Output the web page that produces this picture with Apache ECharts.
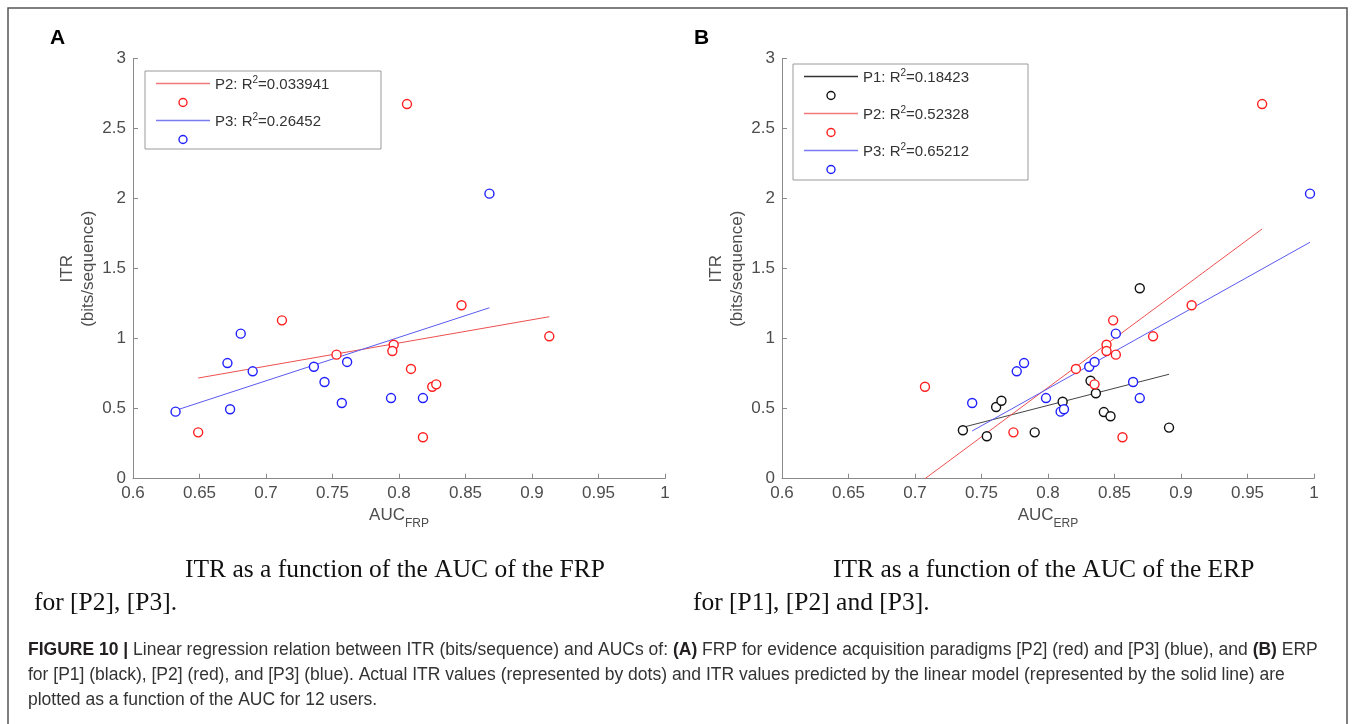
<!DOCTYPE html>
<html>
<head>
<meta charset="utf-8">
<script src="https://cdn.jsdelivr.net/npm/echarts@6/dist/echarts.min.js"></script>
<style>
html,body{margin:0;padding:0;background:#fff;}
#chart{width:1355px;height:724px;}
</style>
</head>
<body>
<div id="chart"></div>
<script>
// panel A : AUC of the FRP
var frpP2X = [0.649, 0.712, 0.753, 0.796, 0.795, 0.847, 0.913, 0.809, 0.825, 0.828, 0.818, 0.806];
var frpP2Y = [0.331, 1.131, 0.886, 0.957, 0.912, 1.239, 1.017, 0.784, 0.657, 0.674, 0.296, 2.676];
var frpP3X = [0.632, 0.671, 0.681, 0.673, 0.690, 0.736, 0.744, 0.761, 0.757, 0.794, 0.818, 0.868];
var frpP3Y = [0.479, 0.826, 1.036, 0.496, 0.767, 0.800, 0.691, 0.834, 0.541, 0.576, 0.576, 2.036];
// fitted lines, end points
var frpFitP2 = [[0.649, 0.719], [0.913, 1.157]];
var frpFitP3 = [[0.633, 0.491], [0.868, 1.221]];

// panel B : AUC of the ERP
var erpP1X = [0.736, 0.754, 0.761, 0.765, 0.869, 0.832, 0.836, 0.811, 0.842, 0.847, 0.891, 0.790];
var erpP1Y = [0.346, 0.303, 0.512, 0.557, 1.360, 0.700, 0.610, 0.550, 0.476, 0.446, 0.365, 0.331];
var erpP2X = [0.7075, 0.774, 0.849, 0.908, 0.879, 0.844, 0.844, 0.851, 0.821, 0.835, 0.856, 0.961];
var erpP2Y = [0.657, 0.331, 1.131, 1.239, 1.017, 0.957, 0.912, 0.886, 0.784, 0.674, 0.296, 2.676];
var erpP3X = [0.851, 0.782, 0.831, 0.835, 0.864, 0.869, 0.7985, 0.8095, 0.812, 0.997, 0.743, 0.7765];
var erpP3Y = [1.036, 0.826, 0.800, 0.834, 0.691, 0.576, 0.576, 0.479, 0.496, 2.036, 0.541, 0.767];
var erpFitP1 = [[0.7376, 0.371], [0.891, 0.746]];
var erpFitP2 = [[0.7075, 0.0], [0.961, 1.784]];
var erpFitP3 = [[0.743, 0.341], [0.997, 1.689]];

var legendA = ['P2', '0.033941', 'P3', '0.26452'];
var legendB = ['P1', '0.18423', 'P2', '0.52328', 'P3', '0.65212'];

var RED = '#ff1f1f', BLUE = '#2020ff', BLACK = '#111111';
var RED_L = '#ee5050', BLUE_L = '#5a5af0', BLACK_L = '#444444';
var FONT = '"Liberation Sans", Arial, sans-serif';
var SERIF = '"Liberation Serif", "Times New Roman", serif';

function zip(xs, ys) {
	var out = [];
	for (var i = 0; i < xs.length; i++) out.push([xs[i], ys[i]]);
	return out;
}

function xAxisFor(idx, sub) {
	return {
		type: 'value', gridIndex: idx, min: 0.6, max: 1, interval: 0.05,
		axisLine: {lineStyle: {color: '#8a8a8a', width: 1}},
		axisTick: {inside: true, length: 5, lineStyle: {color: '#8a8a8a'}},
		axisLabel: {color: '#4d4d4d', fontSize: 17, fontFamily: FONT, margin: 6,
			formatter: function (v) { return String(+v.toFixed(2)); }},
		splitLine: {show: false},
		name: '{a|AUC}{s|' + sub + '}',
		nameLocation: 'middle', nameGap: 20,
		nameTextStyle: {
			fontFamily: FONT,
			rich: {
				a: {fontSize: 17, color: '#4d4d4d', fontFamily: FONT, verticalAlign: 'bottom', padding: [0, 0, 6, 0]},
				s: {fontSize: 12, color: '#4d4d4d', fontFamily: FONT, verticalAlign: 'bottom'}
			}
		}
	};
}

function yAxisFor(idx) {
	return {
		type: 'value', gridIndex: idx, min: 0, max: 3, interval: 0.5,
		axisLine: {show: true, lineStyle: {color: '#8a8a8a', width: 1}},
		axisTick: {show: true, inside: true, length: 5, lineStyle: {color: '#8a8a8a'}},
		axisLabel: {color: '#4d4d4d', fontSize: 17, fontFamily: FONT, margin: 7},
		splitLine: {show: false},
		name: 'ITR\n(bits/sequence)',
		nameLocation: 'middle', nameGap: 31, nameRotate: 90,
		nameTextStyle: {color: '#4d4d4d', fontSize: 17, fontFamily: FONT, lineHeight: 21}
	};
}

function dots(name, idx, xs, ys, color) {
	return {
		name: name, type: 'scatter', xAxisIndex: idx, yAxisIndex: idx,
		data: zip(xs, ys), symbol: 'circle', symbolSize: 9, z: 3,
		itemStyle: {color: '#fff', opacity: 1, borderColor: color, borderWidth: 1.4}
	};
}

function fit(name, idx, pts, color) {
	return {
		name: name, type: 'line', xAxisIndex: idx, yAxisIndex: idx,
		data: pts, showSymbol: false, z: 2, silent: true,
		lineStyle: {color: color, width: 1}
	};
}

function legendBox(x, y, w, h, names, vals, colors, lineColors) {
	var g = [{type: 'rect', shape: {x: x, y: y, width: w, height: h},
		style: {fill: '#fff', stroke: '#9a9a9a', lineWidth: 1}, z: 10}];
	for (var i = 0; i < names.length; i++) {
		var ly = y + 12.5 + i * 37;
		g.push({type: 'line', shape: {x1: x + 11, y1: ly, x2: x + 65, y2: ly},
			style: {stroke: lineColors[i], lineWidth: 1.5}, z: 11});
		g.push({type: 'circle', shape: {cx: x + 38, cy: ly + 19, r: 4},
			style: {fill: '#fff', stroke: colors[i], lineWidth: 1.4}, z: 11});
		g.push({type: 'text', x: x + 70, y: ly, z: 11,
			style: {
				text: '{t|' + names[i] + ': R}{p|2}{t|=' + vals[i] + '}',
				verticalAlign: 'middle',
				rich: {
					t: {fontSize: 15, fontFamily: FONT, fill: '#333', verticalAlign: 'bottom'},
					p: {fontSize: 10, fontFamily: FONT, fill: '#333', verticalAlign: 'bottom', padding: [0, 0, 7, 0]}
				}
			}});
	}
	return g;
}

function init_chart() {
	var dom = document.getElementById('chart');
	var myChart = echarts.init(dom, null, {renderer: 'canvas'});
	var graphic = [];
	graphic.push({type: 'rect', shape: {x: 8, y: 8, width: 1339, height: 740},
		style: {fill: 'none', stroke: '#555', lineWidth: 1.5}, z: 0});
	graphic.push({type: 'text', x: 50, y: 38, style: {text: 'A', font: 'bold 21px ' + FONT, fill: '#000', verticalAlign: 'middle'}});
	graphic.push({type: 'text', x: 694, y: 38, style: {text: 'B', font: 'bold 21px ' + FONT, fill: '#000', verticalAlign: 'middle'}});

	graphic = graphic.concat(legendBox(145, 71, 236, 78,
		[legendA[0], legendA[2]], [legendA[1], legendA[3]], [RED, BLUE], ['#f07a7a', '#7a7af2']));
	graphic = graphic.concat(legendBox(793, 64, 235, 116,
		[legendB[0], legendB[2], legendB[4]], [legendB[1], legendB[3], legendB[5]],
		[BLACK, RED, BLUE], ['#333', '#f07a7a', '#7a7af2']));

	var sub = [
		['ITR as a function of the AUC of the FRP', 185, 570],
		['for [P2], [P3].', 34, 603],
		['ITR as a function of the AUC of the ERP', 833, 570],
		['for [P1], [P2] and [P3].', 693, 603]
	];
	for (var i = 0; i < sub.length; i++) {
		graphic.push({type: 'text', x: sub[i][1], y: sub[i][2],
			style: {text: sub[i][0], font: '25.5px ' + SERIF, fill: '#111', verticalAlign: 'middle'}});
	}

	var capRich = {
		b: {fontSize: 17.5, fontWeight: 'bold', fontFamily: FONT, fill: '#231f20'},
		n: {fontSize: 17.5, fontFamily: FONT, fill: '#333'}
	};
	var caption = [
		'{b|FIGURE 10 |}{n| Linear regression relation between ITR (bits/sequence) and AUCs of: }{b|(A)}{n| FRP for evidence acquisition paradigms [P2] (red) and [P3] (blue), and }{b|(B)}{n| ERP}',
		'{n|for [P1] (black), [P2] (red), and [P3] (blue). Actual ITR values (represented by dots) and ITR values predicted by the linear model (represented by the solid line) are}',
		'{n|plotted as a function of the AUC for 12 users.}'
	];
	for (var j = 0; j < caption.length; j++) {
		graphic.push({type: 'text', x: 28, y: 650 + j * 25,
			style: {text: caption[j], rich: capRich, verticalAlign: 'middle'}});
	}

	option = null;
	option = {
		backgroundColor: '#fff',
		animation: false,
		grid: [
			{left: 133, top: 58.7, width: 532, height: 420},
			{left: 782, top: 58.7, width: 532, height: 420}
		],
		xAxis: [xAxisFor(0, 'FRP'), xAxisFor(1, 'ERP')],
		yAxis: [yAxisFor(0), yAxisFor(1)],
		series: [
			fit('P2 fit', 0, frpFitP2, RED_L),
			fit('P3 fit', 0, frpFitP3, BLUE_L),
			dots('P2', 0, frpP2X, frpP2Y, RED),
			dots('P3', 0, frpP3X, frpP3Y, BLUE),
			fit('P1 fit', 1, erpFitP1, BLACK_L),
			fit('P2 fit', 1, erpFitP2, RED_L),
			fit('P3 fit', 1, erpFitP3, BLUE_L),
			dots('P1', 1, erpP1X, erpP1Y, BLACK),
			dots('P2', 1, erpP2X, erpP2Y, RED),
			dots('P3', 1, erpP3X, erpP3Y, BLUE)
		],
		graphic: graphic
	};
	if (option && typeof option === "object") {
		myChart.setOption(option, true);
	}
}
init_chart();
</script>
</body>
</html>
